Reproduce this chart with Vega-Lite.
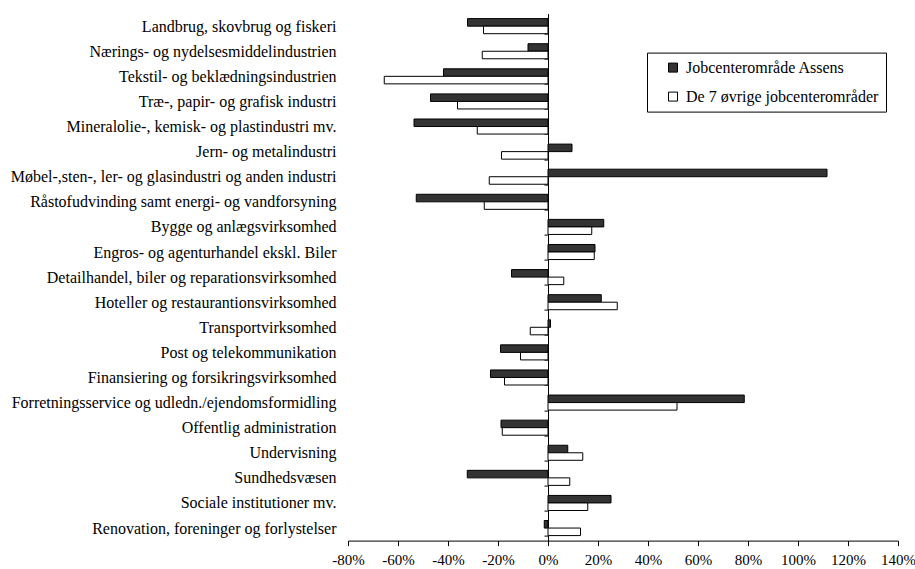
{
  "$schema": "https://vega.github.io/schema/vega-lite/v6.json",
  "autosize": {"type": "none"},
  "padding": {"left": 348, "top": 13.6, "right": 17, "bottom": 28.4},
  "width": 550,
  "height": 527,
  "background": "white",
  "config": {
    "view": {"stroke": null},
    "font": "Liberation Serif"
  },
  "data": {
    "values": [
      {"cat": "Landbrug, skovbrug og fiskeri", "s": "Jobcenterområde Assens", "v": -32.2},
      {"cat": "Landbrug, skovbrug og fiskeri", "s": "De 7 øvrige jobcenterområder", "v": -25.8},
      {"cat": "Nærings- og nydelsesmiddelindustrien", "s": "Jobcenterområde Assens", "v": -8.0},
      {"cat": "Nærings- og nydelsesmiddelindustrien", "s": "De 7 øvrige jobcenterområder", "v": -26.3},
      {"cat": "Tekstil- og beklædningsindustrien", "s": "Jobcenterområde Assens", "v": -41.8},
      {"cat": "Tekstil- og beklædningsindustrien", "s": "De 7 øvrige jobcenterområder", "v": -65.5},
      {"cat": "Træ-, papir- og grafisk industri", "s": "Jobcenterområde Assens", "v": -47.0},
      {"cat": "Træ-, papir- og grafisk industri", "s": "De 7 øvrige jobcenterområder", "v": -36.2},
      {"cat": "Mineralolie-, kemisk- og plastindustri mv.", "s": "Jobcenterområde Assens", "v": -53.6},
      {"cat": "Mineralolie-, kemisk- og plastindustri mv.", "s": "De 7 øvrige jobcenterområder", "v": -28.3},
      {"cat": "Jern- og metalindustri", "s": "Jobcenterområde Assens", "v": 9.6},
      {"cat": "Jern- og metalindustri", "s": "De 7 øvrige jobcenterområder", "v": -18.6},
      {"cat": "Møbel-,sten-, ler- og glasindustri og anden industri", "s": "Jobcenterområde Assens", "v": 111.6},
      {"cat": "Møbel-,sten-, ler- og glasindustri og anden industri", "s": "De 7 øvrige jobcenterområder", "v": -23.5},
      {"cat": "Råstofudvinding samt energi- og vandforsyning", "s": "Jobcenterområde Assens", "v": -52.7},
      {"cat": "Råstofudvinding samt energi- og vandforsyning", "s": "De 7 øvrige jobcenterområder", "v": -25.5},
      {"cat": "Bygge og anlægsvirksomhed", "s": "Jobcenterområde Assens", "v": 22.3},
      {"cat": "Bygge og anlægsvirksomhed", "s": "De 7 øvrige jobcenterområder", "v": 17.5},
      {"cat": "Engros- og agenturhandel ekskl. Biler", "s": "Jobcenterområde Assens", "v": 18.8},
      {"cat": "Engros- og agenturhandel ekskl. Biler", "s": "De 7 øvrige jobcenterområder", "v": 18.5},
      {"cat": "Detailhandel, biler og reparationsvirksomhed", "s": "Jobcenterområde Assens", "v": -14.6},
      {"cat": "Detailhandel, biler og reparationsvirksomhed", "s": "De 7 øvrige jobcenterområder", "v": 6.3},
      {"cat": "Hoteller og restaurantionsvirksomhed", "s": "Jobcenterområde Assens", "v": 21.3},
      {"cat": "Hoteller og restaurantionsvirksomhed", "s": "De 7 øvrige jobcenterområder", "v": 27.7},
      {"cat": "Transportvirksomhed", "s": "Jobcenterområde Assens", "v": 1.0},
      {"cat": "Transportvirksomhed", "s": "De 7 øvrige jobcenterområder", "v": -7.1},
      {"cat": "Post og telekommunikation", "s": "Jobcenterområde Assens", "v": -19.0},
      {"cat": "Post og telekommunikation", "s": "De 7 øvrige jobcenterområder", "v": -11.0},
      {"cat": "Finansiering og forsikringsvirksomhed", "s": "Jobcenterområde Assens", "v": -23.0},
      {"cat": "Finansiering og forsikringsvirksomhed", "s": "De 7 øvrige jobcenterområder", "v": -17.4},
      {"cat": "Forretningsservice og udledn./ejendomsformidling", "s": "Jobcenterområde Assens", "v": 78.5},
      {"cat": "Forretningsservice og udledn./ejendomsformidling", "s": "De 7 øvrige jobcenterområder", "v": 51.6},
      {"cat": "Offentlig administration", "s": "Jobcenterområde Assens", "v": -18.8},
      {"cat": "Offentlig administration", "s": "De 7 øvrige jobcenterområder", "v": -18.3},
      {"cat": "Undervisning", "s": "Jobcenterområde Assens", "v": 7.9},
      {"cat": "Undervisning", "s": "De 7 øvrige jobcenterområder", "v": 13.9},
      {"cat": "Sundhedsvæsen", "s": "Jobcenterområde Assens", "v": -32.3},
      {"cat": "Sundhedsvæsen", "s": "De 7 øvrige jobcenterområder", "v": 8.7},
      {"cat": "Sociale institutioner mv.", "s": "Jobcenterområde Assens", "v": 25.2},
      {"cat": "Sociale institutioner mv.", "s": "De 7 øvrige jobcenterområder", "v": 15.9},
      {"cat": "Renovation, foreninger og forlystelser", "s": "Jobcenterområde Assens", "v": -1.5},
      {"cat": "Renovation, foreninger og forlystelser", "s": "De 7 øvrige jobcenterområder", "v": 13.0}
    ]
  },
  "mark": {"type": "bar", "stroke": "black", "strokeWidth": 1},
  "encoding": {
    "y": {
      "field": "cat",
      "type": "nominal",
      "sort": null,
      "title": null,
      "scale": {"paddingInner": 0.4, "paddingOuter": 0.2},
      "axis": {
        "orient": "left",
        "offset": -200,
        "domain": true,
        "domainColor": "black",
        "domainWidth": 1,
        "ticks": true,
        "tickColor": "black",
        "tickSize": 4,
        "tickBand": "extent",
        "labelPadding": 208,
        "labelFont": "Liberation Serif",
        "labelFontSize": 16,
        "labelColor": "black",
        "labelLimit": 400,
        "labelOverlap": false,
        "grid": false
      }
    },
    "yOffset": {
      "field": "s",
      "type": "nominal",
      "sort": ["Jobcenterområde Assens", "De 7 øvrige jobcenterområder"]
    },
    "x": {
      "field": "v",
      "type": "quantitative",
      "title": null,
      "scale": {"domain": [-80, 140], "nice": false, "zero": false},
      "axis": {
        "values": [-80, -60, -40, -20, 0, 20, 40, 60, 80, 100, 120, 140],
        "labelExpr": "datum.value + '%'",
        "labelOverlap": false,
        "labelFlush": false,
        "grid": false,
        "domainColor": "black",
        "tickColor": "black",
        "tickSize": 5,
        "labelFont": "Liberation Serif",
        "labelFontSize": 15,
        "labelColor": "black",
        "labelPadding": 7
      }
    },
    "fill": {
      "field": "s",
      "type": "nominal",
      "sort": ["Jobcenterområde Assens", "De 7 øvrige jobcenterområder"],
      "scale": {"range": ["#333333", "#ffffff"]},
      "legend": {
        "title": null,
        "orient": "none",
        "legendX": 299,
        "legendY": 39,
        "strokeColor": "black",
        "fillColor": "white",
        "padding": 7,
        "symbolOffset": 11,
        "symbolType": "square",
        "symbolSize": 81,
        "symbolStrokeColor": "black",
        "symbolStrokeWidth": 1,
        "labelFont": "Liberation Serif",
        "labelFontSize": 16,
        "labelColor": "black",
        "labelOffset": 5,
        "rowPadding": 13,
        "labelLimit": 300
      }
    }
  }
}
